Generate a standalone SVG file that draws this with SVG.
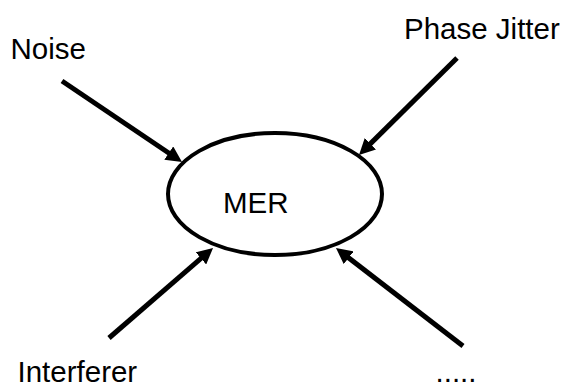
<svg xmlns="http://www.w3.org/2000/svg" width="568" height="388" viewBox="0 0 568 388">
  <style>
    .lbl { font-family: "Liberation Sans", Arial, sans-serif; font-size: 29.5px; fill: #000; }
    .arrow { stroke: #000; stroke-width: 5; fill: none; marker-end: url(#head); }
  </style>
  <defs>
    <marker id="head" viewBox="0 0 16 16" refX="8" refY="8" markerWidth="16" markerHeight="16" markerUnits="userSpaceOnUse" orient="auto">
      <path d="M0,0 L16,8 L0,16 z" fill="#000"/>
    </marker>
  </defs>
  <rect width="568" height="388" fill="#fff"/>
  <g id="connectors">
    <line class="arrow" x1="62" y1="81" x2="175.4" y2="157.5"/>
    <line class="arrow" x1="457" y1="58" x2="364.7" y2="149.4"/>
    <line class="arrow" x1="109" y1="338" x2="207" y2="253.2"/>
    <line class="arrow" x1="463" y1="346" x2="342.3" y2="252.9"/>
  </g>
  <g id="mer">
    <ellipse cx="275" cy="194" rx="107" ry="61" fill="#fff" stroke="#000" stroke-width="4"/>
    <text class="lbl" x="223" y="213">MER</text>
  </g>
  <g id="noise">
    <text class="lbl" x="10.5" y="59">Noise</text>
  </g>
  <g id="phase-jitter">
    <text class="lbl" x="404" y="39">Phase Jitter</text>
  </g>
  <g id="interferer">
    <text class="lbl" x="17.5" y="381.5">Interferer</text>
  </g>
  <g id="other">
    <text class="lbl" x="435.5" y="381.5">.....</text>
  </g>
</svg>
